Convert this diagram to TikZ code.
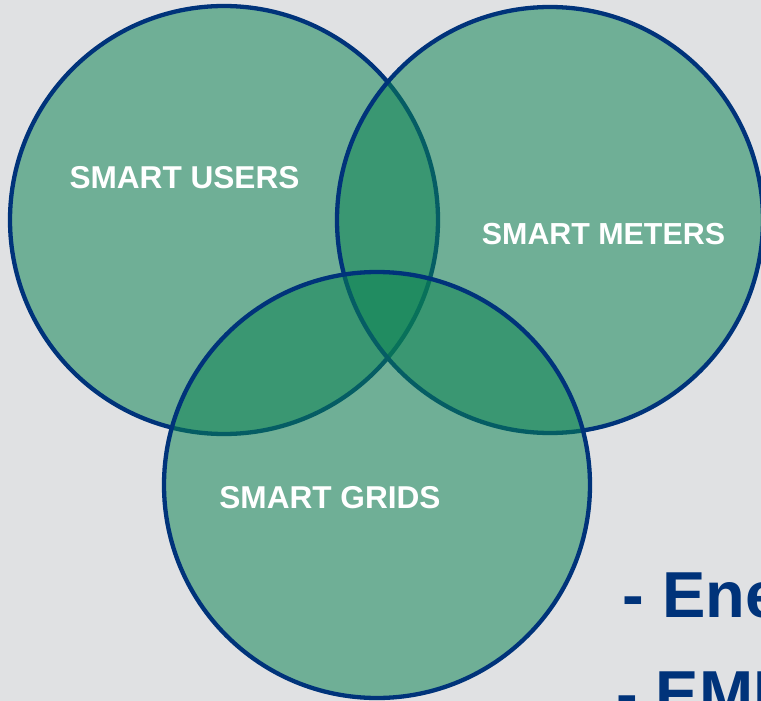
\documentclass[tikz,border=0pt]{standalone}
\usepackage{fontspec}
\setmainfont{Liberation Sans}
\usepackage{xcolor}
\usepackage{tikz}
\usetikzlibrary{calc}

\definecolor{bggray}{RGB}{224,225,227}
\definecolor{setgreen}{RGB}{11,131,82}
\definecolor{rimblue}{RGB}{0,51,122}

\tikzset{
  setdisc/.style={fill=setgreen, fill opacity=0.53},
  setrim/.style={draw=rimblue, line width=4.3pt},
  setlabel/.style={text=white, font=\fontsize{31.6}{38}\selectfont\bfseries, inner sep=0pt},
  bullettext/.style={text=rimblue, font=\fontsize{65}{78}\selectfont\bfseries, anchor=base west, inner sep=0pt}
}

\begin{document}
\begin{tikzpicture}[x=1pt, y=-1pt]
% BACKGROUND
\fill[bggray] (0,0) rectangle (761,701);
\useasboundingbox (0,0) rectangle (761,701);
% CENTRES
\coordinate (CU) at (224, 220);
\coordinate (CM) at (550, 220);
\coordinate (CG) at (377, 485);
% SMART USERS
\fill[setdisc] (CU) circle (214);
\draw[setrim] (CU) circle (214);
% SMART METERS
\fill[setdisc] (CM) circle (213);
\draw[setrim] (CM) circle (213);
% SMART GRIDS
\fill[setdisc] (CG) circle (213);
\draw[setrim] (CG) circle (213);
% LABELS
\node[setlabel] (users) at (184.5, 178) {SMART USERS};
\node[setlabel, font=\fontsize{30.4}{36}\selectfont\bfseries] (meters) at (603.5, 234) {SMART METERS};
\node[setlabel] (grids) at (330, 498) {SMART GRIDS};
% LIST ON THE RIGHT
\node[bullettext] (energy) at (622.6, 617) {- Ene};
\node[bullettext] (emi) at (616, 716) {- EMI};
\end{tikzpicture}
\end{document}
